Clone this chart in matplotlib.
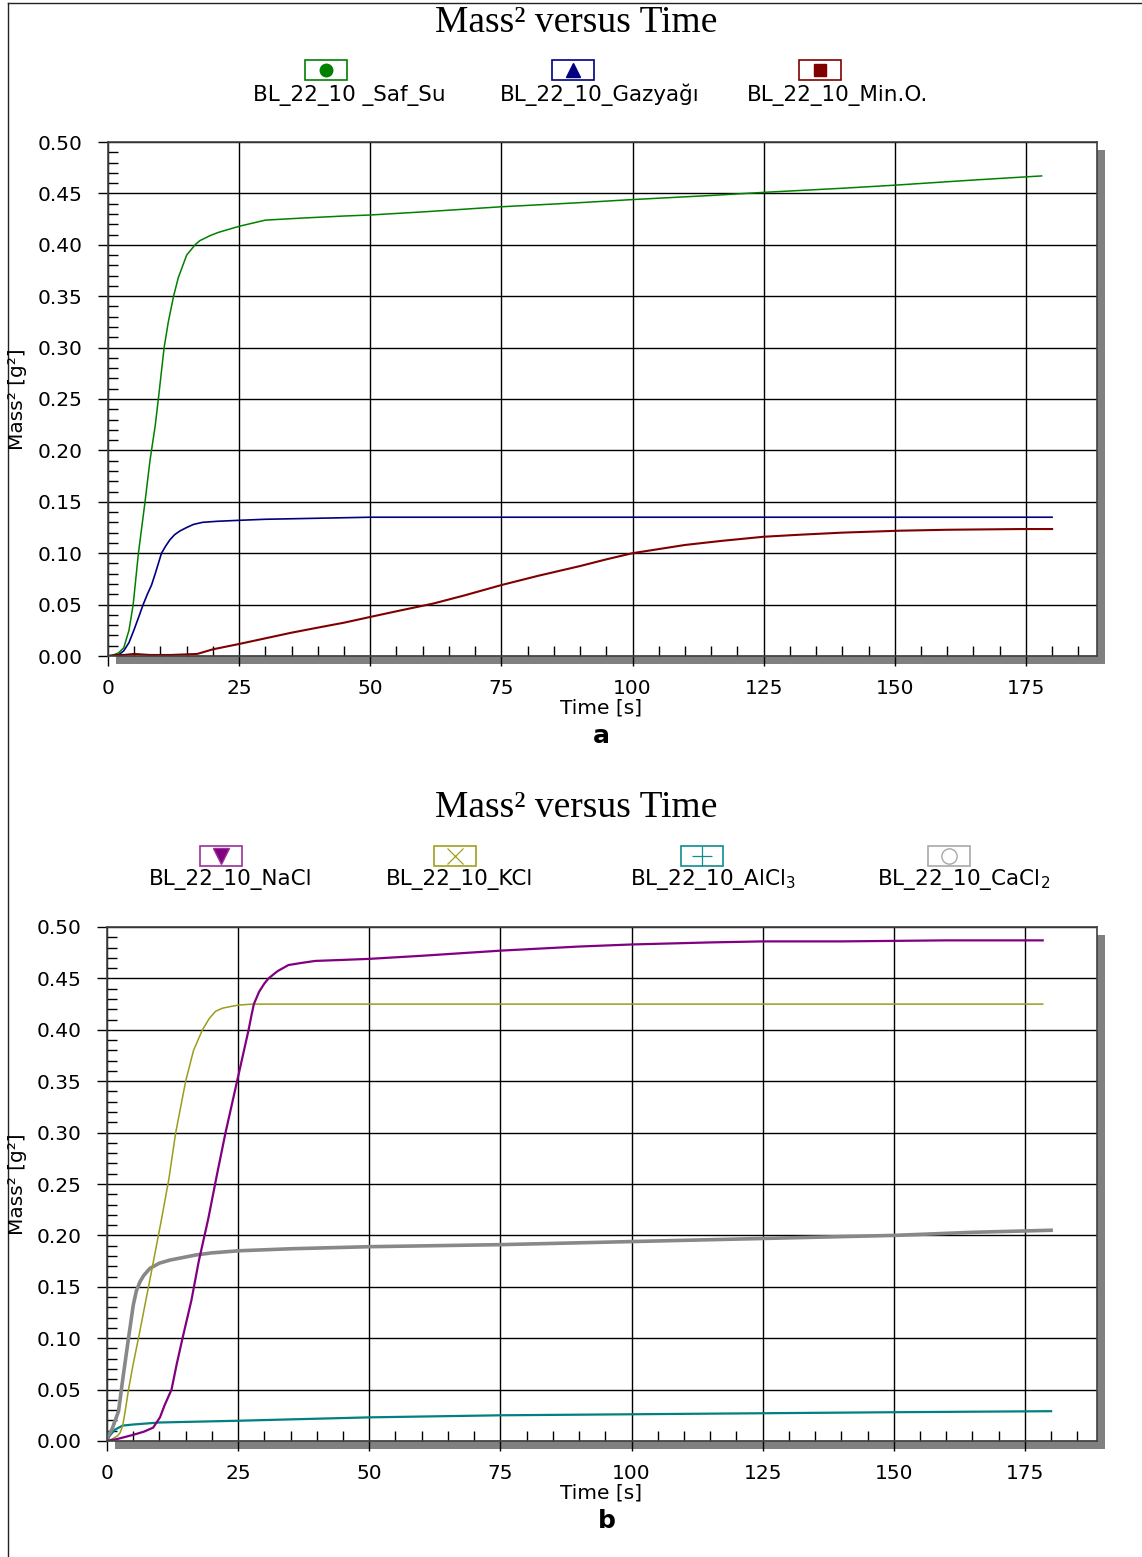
import matplotlib
matplotlib.use("Agg")
import matplotlib.pyplot as plt
from matplotlib.patches import Rectangle
from matplotlib.lines import Line2D
from matplotlib.ticker import MultipleLocator

plt.rcParams['font.family'] = ['DejaVu Sans']
plt.rcParams['mathtext.fontset'] = 'dejavusans'

# ---- panel a: pure water, kerosene, mineral oil ----
t_safsu = [0, 1, 2, 3, 4, 4.8, 5.8, 7.06, 8, 9, 9.6, 10.7, 11.5, 12.5, 13.4, 15, 16.6, 17.5,
           19.5, 21, 23, 25, 30, 37, 45, 50, 60, 75, 90, 100, 115, 125, 140, 150, 165, 178]
m_safsu = [0, 0.001, 0.003, 0.008, 0.025, 0.05, 0.10, 0.15, 0.19, 0.224, 0.25, 0.30, 0.325,
           0.35, 0.368, 0.39, 0.40, 0.404, 0.409, 0.412, 0.415, 0.418, 0.424, 0.426, 0.428,
           0.429, 0.432, 0.437, 0.441, 0.444, 0.448, 0.451, 0.455, 0.458, 0.463, 0.467]

t_gazyagi = [0, 1, 2, 3, 4, 5, 6, 6.7, 7.5, 8.3, 9, 10.2, 11, 11.8, 12.7, 13.7, 15, 16.3,
             18, 20.7, 25, 30, 37, 50, 75, 100, 125, 150, 180]
m_gazyagi = [0, 0, 0.001, 0.005, 0.013, 0.026, 0.04, 0.05, 0.06, 0.069, 0.08, 0.10, 0.107,
             0.113, 0.118, 0.1216, 0.125, 0.128, 0.130, 0.131, 0.132, 0.133, 0.1337, 0.135,
             0.135, 0.135, 0.135, 0.135, 0.135]

t_mino = [0, 1.5, 3, 5, 8, 12, 17, 20, 25, 30, 35, 40, 45, 50, 55, 62, 68, 75, 82, 90, 95,
          100, 105, 110, 117, 125, 132, 140, 151, 160, 174, 180]
m_mino = [0, 0.001, 0.001, 0.002, 0.001, 0.001, 0.002, 0.0065, 0.0117, 0.0172, 0.0227,
          0.0276, 0.0324, 0.038, 0.0435, 0.051, 0.059, 0.069, 0.078, 0.0875, 0.094, 0.100,
          0.104, 0.108, 0.112, 0.116, 0.118, 0.120, 0.1219, 0.1228, 0.1235, 0.1235]

# ---- panel b: salt solutions ----
t_nacl = [0, 2, 5, 7, 8.8, 10.1, 11, 12.3, 13.3, 14.4, 16.1, 17.5, 19.3, 21, 22.6, 24.8, 27,
          27.5, 28, 29, 30, 30.8, 32.5, 34.6, 37, 39.7, 45, 50, 60, 75, 90, 100, 115, 125,
          140, 160, 178.4]
m_nacl = [0, 0.002, 0.006, 0.009, 0.013, 0.023, 0.035, 0.05, 0.075, 0.10, 0.137, 0.175,
          0.216, 0.26, 0.30, 0.35, 0.40, 0.413, 0.425, 0.437, 0.445, 0.45, 0.457, 0.463,
          0.465, 0.467, 0.468, 0.469, 0.472, 0.477, 0.481, 0.483, 0.485, 0.486, 0.486, 0.487,
          0.487]

t_kcl = [0, 1, 2, 2.5, 3, 3.5, 4.1, 5, 6, 7.3, 8.6, 10.4, 11.8, 13.1, 15, 16.5, 18.2, 19.5,
         20.7, 22, 23.9, 25, 27.7, 40, 60, 100, 140, 178.4]
m_kcl = [0, 0.002, 0.005, 0.008, 0.015, 0.03, 0.05, 0.075, 0.10, 0.134, 0.168, 0.216, 0.255,
         0.30, 0.35, 0.38, 0.40, 0.411, 0.418, 0.421, 0.423, 0.424, 0.425, 0.425, 0.425, 0.425,
         0.425, 0.425]

t_alcl3 = [0, 0.5, 1.5, 3, 4.9, 10, 25, 50, 75, 100, 125, 150, 180]
m_alcl3 = [0, 0.005, 0.011, 0.015, 0.016, 0.018, 0.0197, 0.023, 0.025, 0.026, 0.027, 0.028,
           0.029]

t_cacl2 = [0, 1, 2.2, 3, 4.1, 5, 5.6, 6.3, 7, 8.2, 10, 12, 14, 17, 20, 25, 35, 50, 75, 100,
           125, 150, 165, 180]
m_cacl2 = [0.003, 0.012, 0.029, 0.06, 0.10, 0.132, 0.146, 0.155, 0.161, 0.168, 0.173, 0.176,
           0.178, 0.181, 0.183, 0.185, 0.187, 0.189, 0.191, 0.194, 0.197, 0.200, 0.203, 0.205]

labels_a = ['BL_22_10 _Saf_Su', 'BL_22_10_Gazyağı', 'BL_22_10_Min.O.']
labels_b = ['BL_22_10_NaCl', 'BL_22_10_KCl', r'BL_22_10_AlCl$_3$', r'BL_22_10_CaCl$_2$']
x_ticks = [0, 25, 50, 75, 100, 125, 150, 175]
y_ticks = [0.00, 0.05, 0.10, 0.15, 0.20, 0.25, 0.30, 0.35, 0.40, 0.45, 0.50]

W, H = 1142, 1557
fig = plt.figure(figsize=(W / 100, H / 100), dpi=100)


def fx(px):
    return px / W


def fy(py):
    return 1 - py / H


# outer frame
fig.add_artist(Line2D([fx(8), fx(8)], [fy(3), fy(1557)], color='#222222', lw=1.0))
fig.add_artist(Line2D([fx(8), fx(1142)], [fy(3), fy(3)], color='#222222', lw=1.0))


def make_axes(left, right, top, bottom, title_y, leg_y, lab_y, letter, letter_x, legend_items):
    # drop shadow behind the plotting area
    fig.add_artist(Rectangle((fx(left + 8), fy(bottom + 8)), fx(right) - fx(left),
                             fy(top) - fy(bottom), transform=fig.transFigure,
                             facecolor='#808080', edgecolor='none', zorder=-1))
    ax = fig.add_axes([fx(left), fy(bottom), fx(right) - fx(left), fy(top) - fy(bottom)])
    ax.set_facecolor('white')
    xmax = (right - left) / 5.245
    ax.set_xlim(0, xmax)
    ax.set_ylim(0, 0.5)
    ax.set_xticks(x_ticks)
    ax.set_yticks(y_ticks)
    ax.set_yticklabels([f'{v:.2f}' for v in y_ticks])
    ax.xaxis.set_minor_locator(MultipleLocator(5))
    ax.yaxis.set_minor_locator(MultipleLocator(0.01))
    ax.tick_params(which='major', direction='out', length=7.5, width=1.0, color='black',
                   labelsize=14.5, pad=9)
    ax.tick_params(axis='y', which='major', pad=11)
    ax.tick_params(which='minor', direction='in', length=7.5, width=1.0, color='black')
    ax.grid(True, which='major', color='black', lw=1.0)
    ax.set_axisbelow(True)
    for sp in ax.spines.values():
        sp.set_color('#404040')
        sp.set_linewidth(1.2)

    fig.text(fx(576), fy(title_y), 'Mass² versus Time', family='Liberation Serif',
             fontsize=27, ha='center', va='baseline')
    for (cx, lx, lab, ec, mk, mfc, ms, mew) in legend_items:
        fig.add_artist(Rectangle((fx(cx - 21), fy(leg_y + 10)), fx(42), 20 / H,
                                 transform=fig.transFigure, facecolor='white',
                                 edgecolor=ec, lw=1.2))
        fig.add_artist(Line2D([fx(cx)], [fy(leg_y)], transform=fig.transFigure, marker=mk,
                              markersize=ms, markerfacecolor=mfc, markeredgecolor=ec,
                              markeredgewidth=mew, linestyle='none'))
        fig.text(fx(lx), fy(lab_y), lab, fontsize=15.5, ha='center', va='center')

    fig.text(fx(601), fy(bottom + 52), 'Time [s]', fontsize=14.5, ha='center', va='center')
    fig.text(fx(18), fy((top + bottom) / 2), 'Mass² [g²]', fontsize=14.5, rotation=90,
             ha='center', va='center')
    fig.text(fx(letter_x), fy(bottom + 80), letter, fontsize=18, fontweight='bold',
             ha='center', va='center')
    return ax


items_a = [
    (326, 349, labels_a[0], '#008000', 'o', '#008000', 9, 1),
    (573, 600, labels_a[1], '#000080', '^', '#000080', 10, 1),
    (820, 838, labels_a[2], '#800000', 's', '#800000', 9, 1),
]
ax_a = make_axes(108, 1097, 142, 656, 32, 70, 95, 'a', 601, items_a)
ax_a.plot(t_safsu, m_safsu, color='#008000', lw=1.1)
ax_a.plot(t_gazyagi, m_gazyagi, color='#000080', lw=1.2)
ax_a.plot(t_mino, m_mino, color='#800000', lw=1.5)

items_b = [
    (221, 231, labels_b[0], '#9B309B', 'v', '#800080', 11, 1),
    (455, 460, labels_b[1], '#A0A020', 'x', '#A0A020', 12, 0.9),
    (702, 713, labels_b[2], '#108C8C', '+', '#108C8C', 14, 0.9),
    (949, 964, labels_b[3], '#A8A8A8', 'o', 'white', 11, 1.0),
]
ax_b = make_axes(107, 1097, 927, 1441, 817, 856, 880, 'b', 607, items_b)
ax_b.plot(t_alcl3, m_alcl3, color='#008080', lw=1.6)
ax_b.plot(t_cacl2, m_cacl2, color='#888888', lw=2.6)
ax_b.plot(t_kcl, m_kcl, color='#9C9C1C', lw=1.1)
ax_b.plot(t_nacl, m_nacl, color='#800080', lw=1.6)

fig.savefig('out.png', dpi=100)
